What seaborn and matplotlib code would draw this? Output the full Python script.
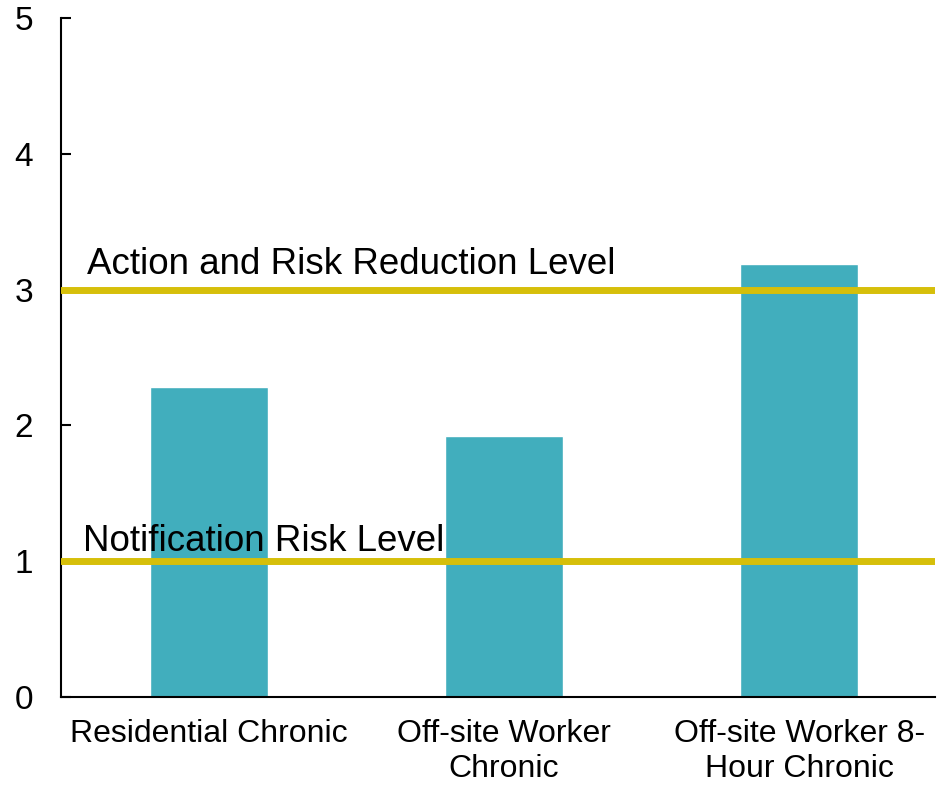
import matplotlib
matplotlib.use("Agg")
import matplotlib.pyplot as plt
import seaborn as sns
import pandas as pd

# Chart data
categories = ["Residential Chronic", "Off-site Worker\nChronic", "Off-site Worker 8-\nHour Chronic"]
values = [2.28, 1.92, 3.19]
levels = [1, 3]
level_labels = ["Notification Risk Level", "Action and Risk Reduction Level"]

df = pd.DataFrame({"category": categories, "value": values})

sns.set_style("ticks")
plt.rcParams["font.family"] = ["Liberation Sans", "DejaVu Sans"]
plt.rcParams["text.color"] = "black"
plt.rcParams["xtick.color"] = "black"
plt.rcParams["ytick.color"] = "black"

fig = plt.figure(figsize=(9.38, 7.85), dpi=100)
ax = fig.add_axes([0.065, 0.112, 0.932, 0.865])

sns.barplot(data=df, x="category", y="value", color="#41AEBD", width=0.4,
            saturation=1, ax=ax)

# threshold lines with labels
for lvl, lab in zip(levels, level_labels):
    ax.axhline(lvl, color="#D6BF0A", linewidth=5, zorder=3)
    ax.text(-0.412 if lvl == 3 else -0.425, lvl + 0.115 if lvl == 3 else lvl + 0.075,
            lab, fontsize=26.5, ha="left", va="baseline", zorder=4)

ax.set_xlim(-0.5, 2.46)
ax.set_ylim(0, 5)
ax.set_yticks([0, 1, 2, 3, 4, 5])
ax.set_xlabel("")
ax.set_ylabel("")
sns.despine(ax=ax)
for s in ["left", "bottom"]:
    ax.spines[s].set_linewidth(1.5)
    ax.spines[s].set_color("black")
ax.tick_params(axis="y", direction="in", length=7, width=1.5, labelsize=24, pad=20)
ax.tick_params(axis="x", length=0, labelsize=23, pad=16)
for t in ax.get_xticklabels():
    t.set_linespacing(1.22)

fig.savefig("out.png", dpi=100)
